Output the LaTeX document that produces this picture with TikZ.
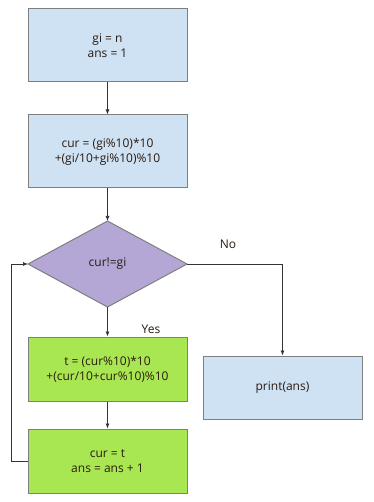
\documentclass[tikz,border=0pt]{standalone}
\usepackage{fontspec}
\setmainfont{Open Sans}
\usetikzlibrary{arrows.meta}
\definecolor{bluefill}{HTML}{CFE2F3}
\definecolor{purplefill}{HTML}{B4A7D6}
\definecolor{greenfill}{HTML}{A9E752}
\definecolor{edgegrey}{HTML}{7F7F7F}
\definecolor{txt}{HTML}{2A1A10}
\begin{document}
\begin{tikzpicture}[x=1pt,y=-1pt,
  every node/.style={font=\fontsize{12}{15}\selectfont, text=txt},
  box/.style={draw=edgegrey, line width=1pt, minimum width=159pt, minimum height=73pt, align=center, inner sep=0pt},
  conn/.style={draw=black!80, line width=0.7pt, -{Latex[length=5pt,width=4pt]}},
  lbl/.style={font=\fontsize{12}{14}\selectfont}]
\useasboundingbox (0,0) rectangle (373,502);
\fill[white] (0,0) rectangle (373,502);
\node[box, fill=bluefill] (init) at (107.5,45.5) {gi = n\\ans = 1};
\node[box, fill=bluefill] (cur) at (107.5,151.5) {cur = (gi\%10)*10\\+(gi/10+gi\%10)\%10};
\draw[draw=edgegrey, fill=purplefill, line width=1pt] (28,264) -- (107.5,221) -- (187,264) -- (107.5,307) -- cycle;
\coordinate (dl) at (28,264);
\coordinate (dr) at (187,264);
\coordinate (dt) at (107.5,221);
\coordinate (db) at (107.5,307);
\node (dec) at (107.5,264) {cur!=gi};
\node[box, fill=greenfill, minimum height=64pt] (t) at (107.5,369) {t = (cur\%10)*10\\+(cur/10+cur\%10)\%10};
\node[box, fill=greenfill, minimum height=64pt] (upd) at (107.5,461) {cur = t\\ans = ans + 1};
\node[box, fill=bluefill, minimum height=63pt] (prt) at (282.5,387.5) {print(ans)};
\coordinate (loopx) at (11,0);
\coordinate (nox) at (283,0);
\draw[conn] (init) -- (cur);
\draw[conn] (cur) -- (dt);
\draw[conn] (db) -- (t);
\draw[conn] (t) -- (upd);
\draw[conn] (upd.west) -| (loopx |- dl) -- (dl);
\draw[conn] (dr) -| (prt.north);
\node[lbl] at (228,244) {No};
\node[lbl] at (151,329) {Yes};
\end{tikzpicture}
\end{document}
